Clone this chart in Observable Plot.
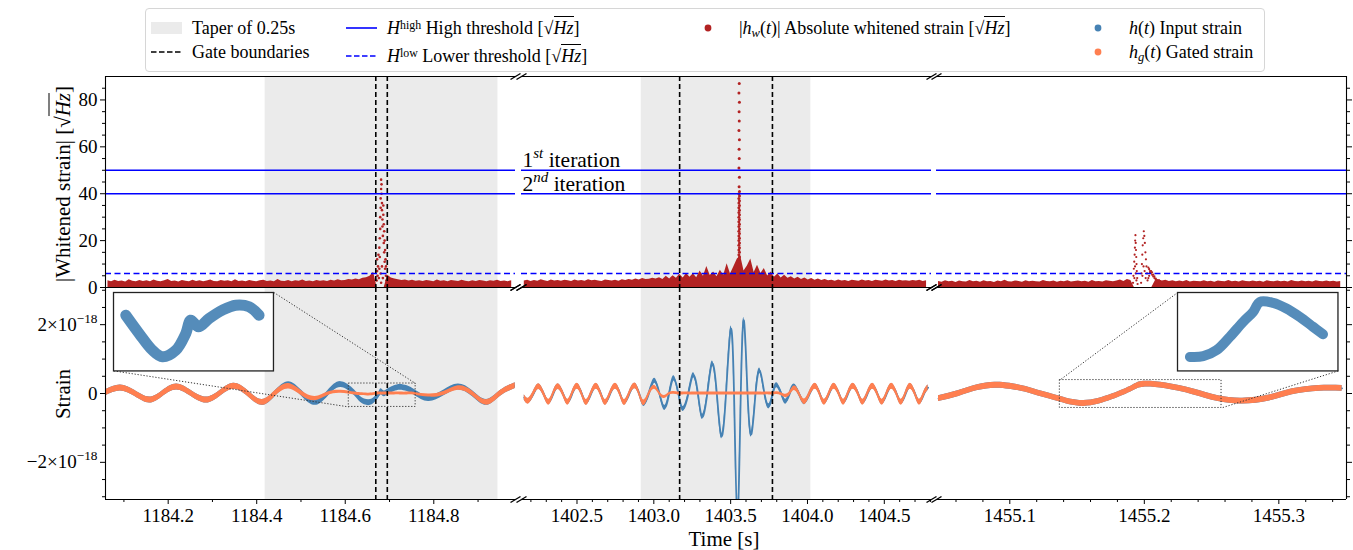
<!DOCTYPE html>
<html>
<head>
<meta charset="utf-8">
<script src="https://cdn.jsdelivr.net/npm/d3@7"></script>
<script src="https://cdn.jsdelivr.net/npm/@observablehq/plot@0.6"></script>
<style>
html, body { margin:0; padding:0; background:#fff; }
#root { position:relative; width:1353px; height:550px; overflow:hidden; background:#fff;
  font-family:"Liberation Serif","Times New Roman",serif; color:#000; }
#legend { position:absolute; left:145px; top:8px; width:1120px; height:64px; box-sizing:border-box;
  border:1px solid #d6d6d6; border-radius:4px; background:#fff; font-size:18px; }
.li { position:absolute; white-space:nowrap; line-height:1; transform:translateY(-50%); }
.hd { position:absolute; transform:translateY(-50%); display:block; }
.ov { border-top:1px solid #000; padding-top:1px; }
sup { font-size:66%; vertical-align:0.45em; line-height:0; }
sub { font-size:70%; vertical-align:-0.25em; line-height:0; }
.lab { position:absolute; white-space:nowrap; transform:translate(-50%,-50%); font-size:21px; line-height:1; }
.rot { transform:translate(-50%,-50%) rotate(-90deg); }
</style>
</head>
<body>
<div id="root"></div>
<script>
// ================= DATA =================
// thresholds (|whitened strain|, sqrt(Hz))
const H_HIGH = [50, 40];
const H_LOW = 6;
const ITER_LABELS = ["1^{st} iteration", "2^{nd} iteration"];

// axis ticks
const TOP_MAJOR = [0, 20, 40, 60, 80];
const TOP_MINOR = [5, 10, 15, 25, 30, 35, 45, 50, 55, 65, 70, 75, 85];
const BOT_MAJOR = [-2, 0, 2];                    // units of 1e-18
const BOT_MINOR = [-3, -2.5, -1.5, -1, -0.5, 0.5, 1, 1.5, 2.5, 3];
const P1_MAJOR = [1184.2, 1184.4, 1184.6, 1184.8];
const P1_MINOR = [1184.1, 1184.3, 1184.5, 1184.7, 1184.9];
const P2_MAJOR = [1402.5, 1403.0, 1403.5, 1404.0, 1404.5];
const P2_MINOR = [1402.2, 1402.3, 1402.4, 1402.6, 1402.7, 1402.8, 1402.9, 1403.1, 1403.2, 1403.3, 1403.4, 1403.6, 1403.7, 1403.8, 1403.9, 1404.1, 1404.2, 1404.3, 1404.4, 1404.6, 1404.7, 1404.8];
const P3_MAJOR = [1455.1, 1455.2, 1455.3];
const P3_MINOR = [1455.06, 1455.08, 1455.12, 1455.14, 1455.16, 1455.18, 1455.22, 1455.24, 1455.26, 1455.28, 1455.32, 1455.34];

// gates and tapers (s)
const P1_GATES = [1184.669, 1184.695], P1_TAPER = [1184.419, 1184.945];
const P2_GATES = [1403.168, 1403.772], P2_TAPER = [1402.918, 1404.022];

// ---- panel 1 strain (units 1e-18) ----
const p1_t  = [1184.058,1184.092,1184.125,1184.158,1184.188,1184.219,1184.252,1184.286,1184.317,1184.348,1184.380,1184.412,1184.442,1184.472,1184.502,1184.532,1184.561,1184.590,1184.621,1184.635,1184.653,1184.667,1184.676,1184.681,1184.688,1184.698,1184.711,1184.724,1184.740,1184.758,1184.788,1184.822,1184.855,1184.887,1184.919,1184.950,1184.984];
const p1_h  = [0.02,0.16,0.00,-0.19,0.00,0.19,0.00,-0.19,0.00,0.21,0.00,-0.26,0.00,0.26,0.00,-0.26,0.00,0.26,0.02,-0.18,-0.27,-0.18,-0.04,0.05,-0.01,0.06,0.14,0.18,0.14,0.02,-0.15,0.01,0.19,0.00,-0.26,0.00,0.23];
const p1_hg = [0.02,0.16,0.00,-0.19,0.00,0.19,0.00,-0.19,0.00,0.21,0.00,-0.26,0.00,0.21,0.00,-0.15,-0.01,0.05,0.00,-0.02,-0.03,-0.01,0.00,0.00,0.00,0.00,0.00,0.00,0.00,-0.01,-0.06,0.00,0.16,0.00,-0.26,0.00,0.23];
const p1_hgw = [0.085,0.085,0.085,0.085,0.085,0.085,0.085,0.085,0.085,0.085,0.085,0.085,0.085,0.08,0.07,0.06,0.05,0.045,0.04,0.04,0.04,0.04,0.04,0.04,0.04,0.04,0.04,0.04,0.04,0.04,0.045,0.055,0.065,0.075,0.08,0.085,0.085];

// ---- panel 2 strain ----
const p2_t  = [1402.157,1402.185,1402.218,1402.250,1402.283,1402.316,1402.347,1402.377,1402.409,1402.440,1402.470,1402.501,1402.531,1402.561,1402.593,1402.625,1402.655,1402.685,1402.717,1402.750,1402.780,1402.809,1402.842,1402.876,1402.905,1402.935,1402.970,1403.005,1403.037,1403.070,1403.100,1403.130,1403.160,1403.190,1403.225,1403.257,1403.287,1403.315,1403.348,1403.380,1403.410,1403.440,1403.470,1403.500,1403.522,1403.544,1403.566,1403.587,1403.610,1403.635,1403.662,1403.690,1403.720,1403.750,1403.775,1403.800,1403.830,1403.858,1403.885,1403.913,1403.945,1403.980,1404.015,1404.050,1404.080,1404.110,1404.142,1404.173,1404.205,1404.235,1404.265,1404.297,1404.330,1404.360,1404.392,1404.424,1404.455,1404.486,1404.517,1404.548,1404.580,1404.610,1404.640,1404.669,1404.700,1404.730,1404.760,1404.785];
const p2_h  = [-0.12,-0.22,0.00,0.20,0.00,-0.25,0.00,0.20,0.00,-0.25,0.00,0.21,0.00,-0.26,0.00,0.21,0.00,-0.26,0.00,0.21,0.00,-0.26,0.00,0.22,0.00,-0.30,0.02,0.37,0.00,-0.42,0.00,0.44,0.00,-0.45,0.00,0.53,0.00,-0.68,0.00,0.87,0.00,-1.24,0.00,1.86,0.00,-3.60,0.00,2.11,0.00,-1.18,0.00,0.66,0.00,-0.37,0.00,0.24,0.00,-0.24,0.00,0.20,0.00,-0.25,0.00,0.21,0.00,-0.25,0.00,0.21,0.00,-0.25,0.00,0.21,0.00,-0.25,0.00,0.21,0.00,-0.25,0.00,0.21,0.00,-0.25,0.00,0.21,0.00,-0.25,0.00,0.17];
const p2_hg = [-0.12,-0.22,0.00,0.20,0.00,-0.25,0.00,0.20,0.00,-0.25,0.00,0.21,0.00,-0.26,0.00,0.21,0.00,-0.26,0.00,0.21,0.00,-0.26,0.00,0.22,0.00,-0.27,0.00,0.18,0.00,-0.10,-0.01,0.02,0.00,0.00,0.00,0.00,0.00,0.00,0.00,0.00,0.00,0.00,0.00,0.00,0.00,0.00,0.00,0.00,0.00,0.00,0.00,0.00,0.00,0.00,0.00,0.01,-0.02,-0.07,0.00,0.15,0.00,-0.24,0.00,0.21,0.00,-0.25,0.00,0.21,0.00,-0.25,0.00,0.21,0.00,-0.25,0.00,0.21,0.00,-0.25,0.00,0.21,0.00,-0.25,0.00,0.21,0.00,-0.25,0.00,0.17];
const p2_hgw = [0.085,0.085,0.085,0.085,0.085,0.085,0.085,0.085,0.085,0.085,0.085,0.085,0.085,0.085,0.085,0.085,0.085,0.085,0.085,0.085,0.085,0.085,0.085,0.085,0.085,0.08,0.07,0.06,0.05,0.045,0.04,0.04,0.04,0.04,0.04,0.04,0.04,0.04,0.04,0.04,0.04,0.04,0.04,0.04,0.04,0.04,0.04,0.04,0.04,0.04,0.04,0.04,0.04,0.04,0.04,0.04,0.045,0.05,0.06,0.065,0.075,0.08,0.085,0.085,0.085,0.085,0.085,0.085,0.085,0.085,0.085,0.085,0.085,0.085,0.085,0.085,0.085,0.085,0.085,0.085,0.085,0.085,0.085,0.085,0.085,0.085,0.085,0.085];

// ---- panel 3 strain (no gate: h = hg) ----
const p3_t = [1455.047,1455.062,1455.076,1455.089,1455.100,1455.112,1455.124,1455.136,1455.155,1455.176,1455.191,1455.1996,1455.216,1455.236,1455.255,1455.273,1455.293,1455.310,1455.330,1455.347];
const p3_h = [-0.15,0.00,0.17,0.24,0.21,0.12,-0.02,-0.15,-0.29,-0.10,0.15,0.27,0.22,0.05,-0.15,-0.22,-0.13,0.05,0.15,0.15];

// ---- |whitened strain| noise floor (regularly sampled) ----
const p1_noise_t0 = 1184.064, p1_noise_dt = 0.008;
const p1_noise = [2.9,2.4,3.1,2.6,2.8,2.3,3.3,2.7,2.5,3.0, 2.6,2.9,2.4,3.2,2.7,2.5,2.9,3.4,2.6,2.8, 2.3,3.0,2.7,2.5,3.1,2.6,2.9,2.4,2.8,3.2, 2.6,2.5,3.0,2.7,2.9,2.4,3.3,2.6,2.8,2.5, 3.0,2.7,2.4,2.9,3.1,2.6,2.8,2.5,3.4,2.7, 2.6,3.0,2.5,2.9,2.7,3.2,2.6,2.8,2.4,3.0, 2.7,2.9,2.6,3.1,2.8,3.3,2.9,3.0,3.4,3.2, 3.6,3.3,3.9,4.2,4.8,6.5,null,null,null,5.2, 4.1,3.6,3.3,3.0,3.2,2.8,3.1,2.7,2.9,2.6, 3.0,2.8,2.5,3.2,2.7,2.9,2.4,3.0,2.8,2.6, 3.1,2.7,2.5,2.9,2.6,3.0,2.8,2.4,2.9,2.7, 3.1,2.6,2.8,2.5,2.9];
const p2_noise_t0 = 1402.157, p2_noise_dt = 0.022;
const p2_noise = [2.8,3.1,2.6,3.0,2.7,3.3,2.9,2.6,3.2,2.8, 3.0,2.7,3.1,2.9,2.6,3.2,2.8,3.0,2.7,3.3, 2.9,3.1,2.8,2.6,3.2,3.0,2.8,3.1,2.7,3.3, 3.0,3.4,3.1,3.6,3.2,3.8,3.4,3.5,3.9,3.6, 4.2,3.4,4.8,3.6,5.0,3.9,5.6,4.1,6.0,4.4, 5.9,4.2,7.0,4.8,9.0,5.1,6.6,4.6,7.4,5.2, 10.1,5.8,8.8,12.0,13.5,7.0,9.2,12.2,6.4,9.5, 6.0,8.1,4.9,6.6,4.4,5.8,4.1,5.2,3.9,4.6, 3.6,4.4,3.4,4.1,3.2,3.8,3.1,3.6,3.0,3.4, 2.9,3.1,2.7,3.2,2.8,3.0,2.6,3.1,2.9,2.7, 3.2,2.8,3.0,2.6,3.1,2.9,2.7,3.2,2.8,3.0, 2.6,3.1,2.8,2.9,2.7,3.0,2.8,3.1,2.6,2.9];
const p3_noise_t0 = 1455.047, p3_noise_dt = 0.0026;
const p3_noise = [2.6,2.2,2.9,2.4,2.7,2.1,2.8,2.5,2.3,3.0, 2.4,2.7,2.2,2.9,2.5,2.6,2.1,2.8,2.4,3.1, 2.5,2.3,2.8,2.6,2.2,2.9,2.4,2.7,2.5,2.3, 3.0,2.6,2.4,2.8,2.2,2.7,2.5,2.9,2.3,2.6, 2.8,2.4,2.7,2.2,3.0,2.5,2.6,2.3,2.9,2.7, 2.4,2.8,3.2,2.6,3.4,3.0,null,null,null,null, null,null,2.9,3.3,2.8,3.1, 2.6,2.9,2.4,2.8,2.5,3.0,2.3,2.7,2.6,2.4, 2.9,2.5,2.7,2.2,2.8,2.6,2.4,3.0,2.5,2.7, 2.3,2.9,2.6,2.4,2.8,2.5,2.7,2.2,2.9,2.6, 2.4,2.8,2.5,2.7,2.3,3.0,2.6,2.4,2.8,2.5, 2.7,2.3,2.9,2.6,2.4,2.8, 2.5,2.7,2.3,2.6];

// ---- glitch samples of |whitened strain| ----
const spike1_t = [1184.671,1184.672,1184.672,1184.673,1184.674,1184.675,1184.676,1184.677,1184.678,1184.679,1184.679,1184.680,1184.680,1184.681,1184.681,1184.682,1184.682,1184.683,1184.683,1184.684,1184.684,1184.685,1184.686,1184.686,1184.687,1184.687,1184.688,1184.688,1184.689,1184.689,1184.690,1184.690,1184.691,1184.692,1184.692,1184.693,1184.680,1184.681,1184.683,1184.678,1184.677,1184.685];
const spike1_v = [3,7,12,5,9,14,4,17,21,25,30,34,38,42,46,44,40,36,33,29,26,22,35,31,27,19,24,15,20,11,16,8,12,5,9,3,6,2,9,13,8,4];
const spike2_t = [1403.5535,1403.5535,1403.5535,1403.5535,1403.5535,1403.5535,1403.5535,1403.5535,1403.5535,1403.5535,1403.5535,1403.5535,1403.5535,1403.5535,1403.5535,1403.5535,1403.5535,1403.5535,1403.5535,1403.5575,1403.5575,1403.5575,1403.5575,1403.5575,1403.5575,1403.5575,1403.5575,1403.5575,1403.5575,1403.5575,1403.5575,1403.5575,1403.5575,1403.5575,1403.5575,1403.5575,1403.5575,1403.5575,1403.555,1403.557,1403.554,1403.556,1403.555,1403.557,1403.554,1403.556,1403.555,1403.557,1403.554,1403.556,1403.555];
const spike2_v = [4,6,8,10,12,14,16,18,20,22,24,26,28,30,32,34,36,38,40,5,7,9,11,13,15,17,19,21,23,25,27,29,31,33,35,37,39,41,43,47,51,55,59,63,67,71,75,79,83,87,91];
const spike3_t = [1455.1916,1455.1919,1455.1922,1455.1925,1455.1928,1455.1930,1455.1932,1455.1934,1455.1936,1455.1938,1455.1940,1455.1942,1455.1944,1455.1947,1455.1950,1455.1926,1455.1931,1455.1936,1455.1941,1455.1976,1455.1979,1455.1982,1455.1985,1455.1988,1455.1992,1455.1996,1455.2000,1455.2004,1455.2008,1455.2012,1455.2016,1455.2020,1455.2024,1455.1986,1455.1994,1455.2002,1455.2010,1455.2030,1455.2036,1455.2042,1455.2050,1455.2058,1455.2066,1455.2075,1455.2085,1455.2030,1455.2036,1455.2042,1455.2050,1455.2058,1455.2066,1455.2075,1455.2085,1455.2095,1455.2110];
const spike3_v = [2,5,8,11,14,17,20,22.3,19,16,13,10,7,4,1.5,4,9,6,3,2,6,10,14,18,21,24,22,19,15,12,9,6,3,5,9,7,4,8.5,7.8,7,6.2,5.4,4.7,4,3.4,4,5,6.2,7,6.5,5.5,4.8,3.8,3.2,3];

// ---- inset zooms of the input strain (units 1e-18) ----
const inset1_t = [1184.6196,1184.6322,1184.6448,1184.6542,1184.6668,1184.6762,1184.6809,1184.6882,1184.6982,1184.7108,1184.7234,1184.7360,1184.7454];
const inset1_h = [0.093,-0.066,-0.211,-0.268,-0.211,-0.066,0.050,-0.008,0.064,0.137,0.180,0.166,0.093];
const inset3_t = [1455.1465,1455.1565,1455.1664,1455.1764,1455.1864,1455.1939,1455.1989,1455.2088,1455.2188,1455.2288,1455.2388,1455.2462];
const inset3_h = [-0.275,-0.268,-0.206,-0.068,0.087,0.190,0.293,0.283,0.225,0.138,0.035,-0.041];

// ================= STYLE / LAYOUT =================
const FONT = '"Liberation Serif","Times New Roman",serif';
const COL = { taper:"#ebebeb", white:"#b22222", h:"#4682b4", hg:"#ff7f50", thr:"#0000ff", gate:"#000" };
const LEFTS = [105, 520.5, 936], PW = 410;
const TOP1 = 76, H1 = 211, TOP2 = 287, H2 = 212;
const TOP_YD = [0, 90], BOT_YD = [-3.08, 3.08];

const panels = [
  { xd:[1184.0584,1184.9846], major:P1_MAJOR, minor:P1_MINOR, gates:P1_GATES, taper:P1_TAPER,
    t:p1_t, h:p1_h, hg:p1_hg, w:p1_hgw, hw:0.085,
    noise:{t0:p1_noise_t0, dt:p1_noise_dt, v:p1_noise}, spike:{t:spike1_t, v:spike1_v, r:1.3} },
  { xd:[1402.1388,1404.8072], major:P2_MAJOR, minor:P2_MINOR, gates:P2_GATES, taper:P2_TAPER,
    t:p2_t, h:p2_h, hg:p2_hg, w:p2_hgw, hw:0.075,
    noise:{t0:p2_noise_t0, dt:p2_noise_dt, v:p2_noise}, spike:{t:spike2_t, v:spike2_v, r:1.5} },
  { xd:[1455.0455,1455.3503], major:P3_MAJOR, minor:P3_MINOR, gates:null, taper:null,
    t:p3_t, h:p3_h, hg:p3_h, w:p3_t.map(() => 0.085), hw:0.085,
    noise:{t0:p3_noise_t0, dt:p3_noise_dt, v:p3_noise}, spike:{t:spike3_t, v:spike3_v, r:1.1} }
];

const insets = [
  { panel:0, t:inset1_t, h:inset1_h, frameT:[1184.0772,1184.4386], frameH:[0.657,2.936],
    boxT:[1184.608,1184.759], boxH:[-0.39,0.29], sw:11, corners:[[1,1],[0,0]] },
  { panel:2, t:inset3_t, h:inset3_h, frameT:[1455.2249,1455.3442], frameH:[0.657,2.936],
    boxT:[1455.1372,1455.2574], boxH:[-0.42,0.39], sw:10, corners:[[0,1],[1,0]] }
];

const root = document.getElementById("root");

function breakMarks(i, xd, yd, W, H) {
  const kx = (xd[1]-xd[0])/W, ky = (yd[1]-yd[0])/H;
  const c = [];
  if (i > 0) c.push([xd[0], yd[0]], [xd[0], yd[1]]);
  if (i < 2) c.push([xd[1], yd[0]], [xd[1], yd[1]]);
  return Plot.link(c, {x1:d=>d[0]-5*kx, y1:d=>d[1]-3*ky, x2:d=>d[0]+5*kx, y2:d=>d[1]+3*ky,
    stroke:"#000", strokeWidth:1.4});
}

function spines(i, xd, yd) {
  const m = [Plot.ruleY([yd[0], yd[1]], {stroke:"#000", strokeWidth:1.1})];
  if (i === 0) m.push(Plot.ruleX([xd[0]], {stroke:"#000", strokeWidth:1.1}));
  if (i === 2) m.push(Plot.ruleX([xd[1]], {stroke:"#000", strokeWidth:1.1}));
  return m;
}

function yAxes(i, major, minor, fmt) {
  const m = [];
  if (i === 0) {
    m.push(Plot.axisY(major, {anchor:"left", tickSize:5, tickPadding:3, tickFormat:fmt, label:null}));
    m.push(Plot.axisY(minor, {anchor:"left", tickSize:3, tickFormat:() => "", label:null}));
  }
  if (i === 2) {
    m.push(Plot.axisY(major, {anchor:"right", tickSize:5, tickFormat:() => "", label:null}));
    m.push(Plot.axisY(minor, {anchor:"right", tickSize:3, tickFormat:() => "", label:null}));
  }
  return m;
}

function supify(svg) {
  svg.querySelectorAll("text").forEach(el => {
    const s = el.textContent;
    if (!/\^\{/.test(s)) return;
    const fs = parseFloat(el.getAttribute("font-size")) || parseFloat(getComputedStyle(el).fontSize) || 19;
    const parts = s.split(/(\^\{[^}]*\})/).filter(p => p);
    while (el.firstChild) el.removeChild(el.firstChild);
    let raised = false;
    for (const p of parts) {
      const ts = document.createElementNS("http://www.w3.org/2000/svg", "tspan");
      const mm = p.match(/^\^\{([^}]*)\}$/);
      if (mm) {
        ts.textContent = mm[1];
        ts.setAttribute("dy", (-0.42*fs).toFixed(1));
        ts.setAttribute("font-size", (0.7*fs).toFixed(1));
        if (/[a-z]/i.test(mm[1])) ts.setAttribute("font-style", "italic");
        raised = true;
      } else {
        ts.textContent = p;
        if (raised) { ts.setAttribute("dy", (0.42*fs).toFixed(1)); raised = false; }
      }
      el.appendChild(ts);
    }
  });
}

function put(el, left, top) {
  el.style.position = "absolute";
  el.style.left = left + "px";
  el.style.top = top + "px";
  el.style.overflow = "visible";
  el.style.maxWidth = "none";
  root.appendChild(el);
  return el;
}

const plotStyle = { overflow:"visible", background:"transparent", fontFamily:FONT, fontSize:"19px", color:"#000" };

panels.forEach((p, i) => {
  // ---------- top row: |whitened strain| ----------
  const noiseData = p.noise.v.map((v, k) => ({ t: p.noise.t0 + k*p.noise.dt, v }));
  const spikeData = p.spike.t.map((t, k) => ({ t, v: p.spike.v[k] }));
  const topMarks = [];
  if (p.taper) topMarks.push(Plot.rect([p.taper], {x1:d=>d[0], x2:d=>d[1], y1:TOP_YD[0], y2:TOP_YD[1], fill:COL.taper}));
  topMarks.push(Plot.areaY(noiseData, {x:"t", y:"v", fill:COL.white, curve:"linear", clip:true}));
  topMarks.push(Plot.dot(spikeData, {x:"t", y:"v", r:p.spike.r, fill:COL.white, stroke:"none", clip:true}));
  topMarks.push(Plot.ruleY(H_HIGH, {stroke:COL.thr, strokeWidth:1.6}));
  topMarks.push(Plot.ruleY([H_LOW], {stroke:COL.thr, strokeWidth:1.6, strokeDasharray:"6,3.5"}));
  if (p.gates) topMarks.push(Plot.ruleX(p.gates, {stroke:COL.gate, strokeWidth:1.6, strokeDasharray:"5,3"}));
  if (i === 1) topMarks.push(Plot.text(ITER_LABELS, {x:p.xd[0], y:(d, j) => H_HIGH[j], text:d => d,
    textAnchor:"start", lineAnchor:"bottom", dx:1, dy:-3, fontSize:21.5}));
  topMarks.push(...spines(i, p.xd, TOP_YD));
  topMarks.push(...yAxes(i, TOP_MAJOR, TOP_MINOR, d => String(d)));
  topMarks.push(breakMarks(i, p.xd, TOP_YD, PW, H1));

  const top = Plot.plot({
    width:PW, height:H1, margin:0, style:plotStyle,
    x:{domain:p.xd, axis:null},
    y:{domain:TOP_YD, ...(i === 1 ? {axis:null} : {})},
    marks:topMarks
  });
  put(top, LEFTS[i], TOP1);
  supify(top);

  // ---------- bottom row: strain ----------
  const strain = p.t.map((t, k) => ({ t, h:p.h[k], hg:p.hg[k], w:p.w[k] }));
  const botMarks = [];
  if (p.taper) botMarks.push(Plot.rect([p.taper], {x1:d=>d[0], x2:d=>d[1], y1:BOT_YD[0], y2:BOT_YD[1], fill:COL.taper}));
  botMarks.push(Plot.line(strain, {x:"t", y:"h", stroke:COL.h, strokeWidth:1.8, curve:"natural", clip:true}));
  botMarks.push(Plot.areaY(strain, {x:"t", y1:d => d.h - p.hw, y2:d => d.h + p.hw, fill:COL.h, curve:"natural", clip:true}));
  botMarks.push(Plot.areaY(strain, {x:"t", y1:d => d.hg - d.w, y2:d => d.hg + d.w, fill:COL.hg, curve:"natural", clip:true}));
  if (p.gates) botMarks.push(Plot.ruleX(p.gates, {stroke:COL.gate, strokeWidth:1.6, strokeDasharray:"5,3"}));
  insets.filter(s => s.panel === i).forEach(s => {
    botMarks.push(Plot.rect([s], {x1:d=>d.boxT[0], x2:d=>d.boxT[1], y1:d=>d.boxH[0], y2:d=>d.boxH[1],
      fill:"none", stroke:"#333", strokeWidth:1, strokeDasharray:"1.2,1.8"}));
    botMarks.push(Plot.link(s.corners, {x1:c => s.frameT[c[0]], y1:c => s.frameH[c[1]],
      x2:c => s.boxT[c[0]], y2:c => s.boxH[c[1]], stroke:"#333", strokeWidth:1, strokeDasharray:"1.2,1.8"}));
  });
  botMarks.push(...spines(i, p.xd, BOT_YD));
  botMarks.push(...yAxes(i, BOT_MAJOR, BOT_MINOR,
    d => d === 0 ? "0" : (d < 0 ? "\u2212" : "") + Math.abs(d) + "\u00d710^{\u221218}"));
  botMarks.push(Plot.axisX(p.major, {tickSize:5, tickPadding:4, tickFormat:d => d.toFixed(1), label:null}));
  botMarks.push(Plot.axisX(p.minor, {tickSize:3, tickFormat:() => "", label:null}));
  botMarks.push(breakMarks(i, p.xd, BOT_YD, PW, H2));

  const bot = Plot.plot({
    width:PW, height:H2, margin:0, style:plotStyle,
    x:{domain:p.xd},
    y:{domain:BOT_YD, ...(i === 1 ? {axis:null} : {})},
    marks:botMarks
  });
  put(bot, LEFTS[i], TOP2);
  supify(bot);
});

// ---------- insets ----------
insets.forEach(s => {
  const p = panels[s.panel];
  const px = v => (v - p.xd[0]) / (p.xd[1] - p.xd[0]) * PW;
  const py = v => (BOT_YD[1] - v) / (BOT_YD[1] - BOT_YD[0]) * H2;
  const left = LEFTS[s.panel] + px(s.frameT[0]);
  const topPx = TOP2 + py(s.frameH[1]);
  const w = px(s.frameT[1]) - px(s.frameT[0]);
  const h = py(s.frameH[0]) - py(s.frameH[1]);
  const data = s.t.map((t, k) => ({ t, h:s.h[k] }));
  const ins = Plot.plot({
    width:w, height:h, margin:0, style:{background:"#fff", overflow:"visible"},
    x:{domain:s.boxT, axis:null}, y:{domain:s.boxH, axis:null},
    marks:[
      Plot.frame({fill:"#fff"}),
      Plot.line(data, {x:"t", y:"h", stroke:COL.h, strokeWidth:s.sw, curve:"catmull-rom", strokeOpacity:0.92}),
      Plot.frame({stroke:"#222", strokeWidth:1.3})
    ]
  });
  put(ins, left, topPx);
});

// ---------- axis titles ----------
const sqrtHz = '[√<span class="ov"><i>Hz</i></span>]';
function label(html, x, y, rot) {
  const d = document.createElement("div");
  d.className = "lab" + (rot ? " rot" : "");
  d.innerHTML = html;
  d.style.left = x + "px"; d.style.top = y + "px";
  root.appendChild(d);
}
label(`|Whitened strain| ${sqrtHz}`, 63, 184, true);
label("Strain", 63, 394, true);
label("Time [s]", 724, 539, false);

// ---------- legend ----------
const legendItems = [
  { kind:"patch", x:5, y:19, html:"Taper of 0.25s" },
  { kind:"dash", color:"#000", x:5, y:43, html:"Gate boundaries" },
  { kind:"line", color:COL.thr, x:200, y:19, html:`<i>H</i><sup>high</sup> High threshold ${sqrtHz}` },
  { kind:"dash", color:COL.thr, x:200, y:47, html:`<i>H</i><sup>low</sup> Lower threshold ${sqrtHz}` },
  { kind:"dot", color:COL.white, x:562, y:19, html:`|<i>h</i><sub><i>w</i></sub>(<i>t</i>)| Absolute whitened strain ${sqrtHz}` },
  { kind:"dot", color:COL.h, x:952, y:19, html:`<i>h</i>(<i>t</i>) Input strain` },
  { kind:"dot", color:COL.hg, x:952, y:43, html:`<i>h</i><sub><i>g</i></sub>(<i>t</i>) Gated strain` }
];
const leg = document.createElement("div");
leg.id = "legend";
root.appendChild(leg);
legendItems.forEach(it => {
  const hd = document.createElementNS("http://www.w3.org/2000/svg", "svg");
  hd.setAttribute("class", "hd");
  let textX;
  if (it.kind === "dot") {
    hd.setAttribute("width", 10); hd.setAttribute("height", 10);
    hd.style.left = (it.x - 5) + "px"; hd.style.top = it.y + "px";
    hd.innerHTML = `<circle cx="5" cy="5" r="3.4" fill="${it.color}"/>`;
    textX = it.x + 31;
  } else {
    hd.setAttribute("width", 32); hd.setAttribute("height", 12);
    hd.style.left = it.x + "px"; hd.style.top = it.y + "px";
    if (it.kind === "patch") hd.innerHTML = `<rect x="0" y="0" width="31" height="12" fill="${COL.taper}"/>`;
    else if (it.kind === "line") hd.innerHTML = `<line x1="0" y1="6" x2="31" y2="6" stroke="${it.color}" stroke-width="1.6"/>`;
    else hd.innerHTML = `<line x1="0" y1="6" x2="31" y2="6" stroke="${it.color}" stroke-width="1.6" stroke-dasharray="5.5,2.5"/>`;
    textX = it.x + 41;
  }
  leg.appendChild(hd);
  const tx = document.createElement("div");
  tx.className = "li";
  tx.style.left = textX + "px"; tx.style.top = it.y + "px";
  tx.innerHTML = it.html;
  leg.appendChild(tx);
});
</script>
</body>
</html>
